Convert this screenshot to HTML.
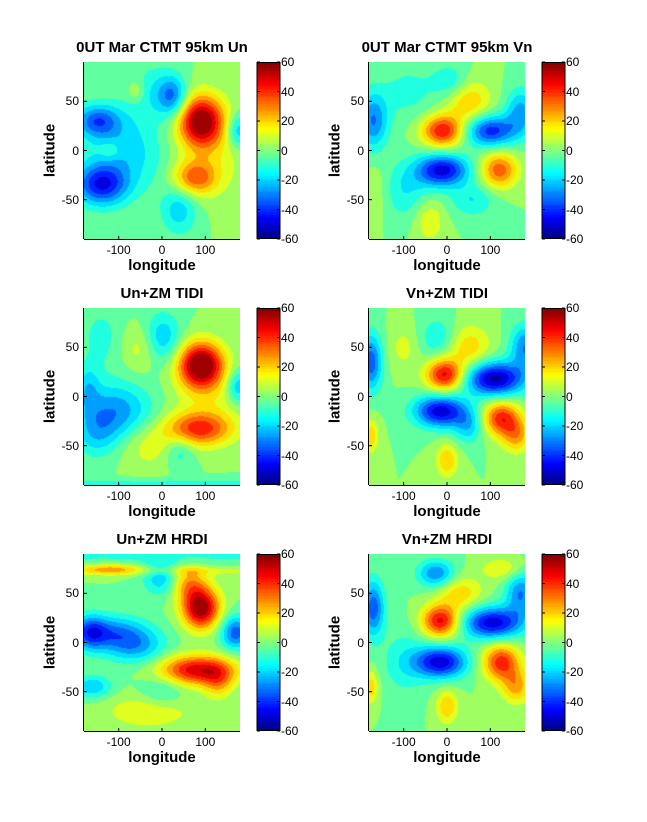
<!DOCTYPE html>
<html><head><meta charset="utf-8">
<style>
body{margin:0;background:#fff;width:647px;height:822px;position:relative;overflow:hidden;font-family:"Liberation Sans",Arial,sans-serif;}
canvas{position:absolute;}
.t{position:absolute;font-weight:bold;font-size:15px;text-align:center;white-space:nowrap;}
.tk{position:absolute;font-size:12px;white-space:nowrap;}
</style></head>
<body>
<svg id="ax" width="647" height="822" style="position:absolute;left:0;top:0"></svg>
<script>
const levelStep = 7.5;
const cbTicks = [60,40,20,0,-20,-40,-60];
const lonTicks = [-100,0,100];
const latTicks = [50,0,-50];
const titles = ["0UT Mar CTMT 95km Un","0UT Mar CTMT 95km Vn","Un+ZM TIDI","Vn+ZM TIDI","Un+ZM HRDI","Vn+ZM HRDI"];

// Panel 1: CTMT Un blobs
const p1Lon=[90,75,110,-140,-150,25,-20,-80,40,175,-60,-120,-100];
const p1Lat=[30,-28,0,-35,30,55,60,-10,-60,20,60,0,20];
const p1Amp=[58,32,12,-42,-30,-30,-12,-14,-20,-25,12,10,-10];
const p1Wx=[30,30,50,35,30,20,30,60,25,15,12,15,50];
const p1Wy=[22,15,40,18,14,18,25,30,22,15,10,8,30];
// Panel 2: CTMT Vn
const p2Lon=[-10,100,-10,120,-170,50,10,-40,-160,-100,60,-90,170];
const p2Lat=[20,20,-20,-20,30,50,70,-70,-40,-40,-50,60,40];
const p2Amp=[45,-42,-48,35,-30,22,-15,15,10,-15,-15,-10,-25];
const p2Wx=[28,35,35,25,20,30,25,20,20,40,30,40,20];
const p2Wy=[14,14,14,16,25,20,15,20,25,25,15,25,20];
// Panel 3: TIDI Un
const p3Lon=[90,85,110,-110,-170,-150,0,-140,175,40,-50,-30,0];
const p3Lat=[32,-33,0,-15,10,-40,60,60,10,-55,50,-50,-90];
const p3Amp=[65,40,10,-28,-15,-15,-22,-10,-25,-15,12,12,-12];
const p3Wx=[30,45,50,50,15,30,25,30,15,20,25,40,400];
const p3Wy=[20,15,30,25,20,20,22,30,15,15,20,20,5];
// Panel 4: TIDI Vn
const p4Lon=[-5,110,-15,125,160,-175,50,-20,-100,-175,0,50,180];
const p4Lat=[22,18,-15,-22,-40,35,50,60,50,-40,-65,-30,50];
const p4Amp=[48,-55,-50,42,25,-35,20,-15,10,20,22,-20,-30];
const p4Wx=[25,40,35,25,20,15,30,25,20,10,15,20,20];
const p4Wy=[14,15,14,15,15,25,20,18,20,15,15,15,20];
// Panel 5: HRDI Un
const p5Lon=[90,60,80,130,-120,-60,-165,170,-160,0,0,-30,-120,0,0];
const p5Lat=[35,60,-28,-40,10,-5,10,10,-45,65,-50,-70,75,90,73];
const p5Amp=[60,25,50,20,-30,-22,-25,-35,-22,-22,-12,15,20,-10,10];
const p5Wx=[25,25,50,20,50,40,20,20,25,25,30,60,40,400,400];
const p5Wy=[18,15,13,15,15,15,15,15,10,15,15,15,5,10,4];
// Panel 6: HRDI Vn
const p6Lon=[-15,105,-15,125,160,-170,30,-25,130,-175,0,170,-100];
const p6Lat=[22,20,-20,-20,-45,35,50,70,75,-45,-65,50,-20];
const p6Amp=[48,-50,-50,42,25,-35,20,-30,15,20,22,-30,-12];
const p6Wx=[25,40,35,25,20,15,30,25,30,10,15,20,30];
const p6Wy=[14,14,14,16,15,25,15,12,10,15,15,20,30];

const panels=[[p1Lon,p1Lat,p1Amp,p1Wx,p1Wy],[p2Lon,p2Lat,p2Amp,p2Wx,p2Wy],[p3Lon,p3Lat,p3Amp,p3Wx,p3Wy],[p4Lon,p4Lat,p4Amp,p4Wx,p4Wy],[p5Lon,p5Lat,p5Amp,p5Wx,p5Wy],[p6Lon,p6Lat,p6Amp,p6Wx,p6Wy]];

const colX=[84,369], cbX=[257,542], rowY=[62,308,554], PW=156, PH=177, CBW=23;
const WXF=1.7, WYF=1.15;
function xScale(px,lon){return px+(lon+180)/360*PW;}
function yScale(py,lat){return py+(90-lat)/180*PH;}
function lonAt(px,x){return -180+(x-px)/PW*360;}
function latAt(py,y){return 90-(y-py)/PH*180;}
function jet(v){const c=x=>Math.max(0,Math.min(1,x));return [c(1.5-Math.abs(4*v-3)),c(1.5-Math.abs(4*v-2)),c(1.5-Math.abs(4*v-1))].map(q=>Math.round(q*255));}
function field(d,lon,lat){let s=0;for(let i=0;i<d[0].length;i++){const dx=(lon-d[0][i])/(d[3][i]*WXF),dy=(lat-d[1][i])/(d[4][i]*WYF);s+=d[2][i]*Math.exp(-(dx*dx+dy*dy));}return s;}

const svg=document.getElementById('ax');
const NS='http://www.w3.org/2000/svg';
function line(x1,y1,x2,y2,name){const l=document.createElementNS(NS,'line');l.setAttribute('x1',x1);l.setAttribute('y1',y1);l.setAttribute('x2',x2);l.setAttribute('y2',y2);l.setAttribute('stroke','#000');l.setAttribute('stroke-width','1');


svg.appendChild(l);}
function txt(cls,x,y,s,name,extra){const d=document.createElement('div');d.className=cls;d.textContent=s;d.style.left=x+'px';d.style.top=y+'px';if(extra)Object.assign(d.style,extra);


document.body.appendChild(d);return d;}

panels.forEach((d,k)=>{
  const px=colX[k%2], py=rowY[Math.floor(k/2)], cx=cbX[k%2];
  const cv=document.createElement('canvas');cv.width=PW;cv.height=PH;cv.style.left=px+'px';cv.style.top=py+'px';
  
  
  document.body.insertBefore(cv,svg);
  const ctx=cv.getContext('2d');const im=ctx.createImageData(PW,PH);
  for(let y=0;y<PH;y++)for(let x=0;x<PW;x++){
    let v=field(d,lonAt(px,px+x+0.5),latAt(py,py+y+0.5));
    v=Math.max(-59.9,Math.min(59.9,v));
    const b=(Math.floor(v/levelStep)+0.5)*levelStep;
    const c=jet((b+60)/120);const i=(y*PW+x)*4;im.data[i]=c[0];im.data[i+1]=c[1];im.data[i+2]=c[2];im.data[i+3]=255;}
  ctx.putImageData(im,0,0);
  const cb=document.createElement('canvas');cb.width=CBW;cb.height=PH;cb.style.left=cx+'px';cb.style.top=py+'px';
  
  
  document.body.insertBefore(cb,svg);
  const cc=cb.getContext('2d');
  for(let y=0;y<PH;y++){const v=1-(Math.floor((y/PH)*64)+0.5)/64;const c=jet(v);cc.fillStyle=`rgb(${c})`;cc.fillRect(0,y,CBW,1);}
  line(cx,py,cx,py+PH,'colorbar-border');line(cx+CBW,py,cx+CBW,py+PH,'colorbar-border');line(cx,py+0.5,cx+CBW,py+0.5,'colorbar-border');line(cx,py+PH-0.5,cx+CBW,py+PH-0.5,'colorbar-border');
  cbTicks.forEach(t=>{const y=py+(60-t)/120*PH;line(cx+CBW-3,y,cx+CBW,y,'colorbar-tick');line(cx,y,cx+3,y,'colorbar-tick');
    txt('tk',cx+CBW+1,y-7,String(t),'colorbar-tick-label');});
  line(px-0.5,py,px-0.5,py+PH,'y-axis');line(px,py+PH+0.5,px+PW,py+PH+0.5,'x-axis');
  lonTicks.forEach(t=>{const x=xScale(px,t);line(x,py+PH,x,py+PH-3,'x-tick');
    txt('tk',x-20,py+PH+4,String(t),'x-tick-label',{width:'40px',textAlign:'center'});});
  latTicks.forEach(t=>{const y=yScale(py,t);line(px,y,px+3,y,'y-tick');
    txt('tk',px-35,y-7,String(t),'y-tick-label',{width:'30px',textAlign:'right'});});
  txt('t',px-30,py-23,titles[k],'panel-title',{width:(PW+60)+'px'});
  txt('t',px,py+PH+18,'longitude','x-axis-title',{width:PW+'px'});
  txt('t',px-64,py+PH/2-9,'latitude','y-axis-title',{width:'60px',transform:'rotate(-90deg)'});
});
</script>
</body></html>
